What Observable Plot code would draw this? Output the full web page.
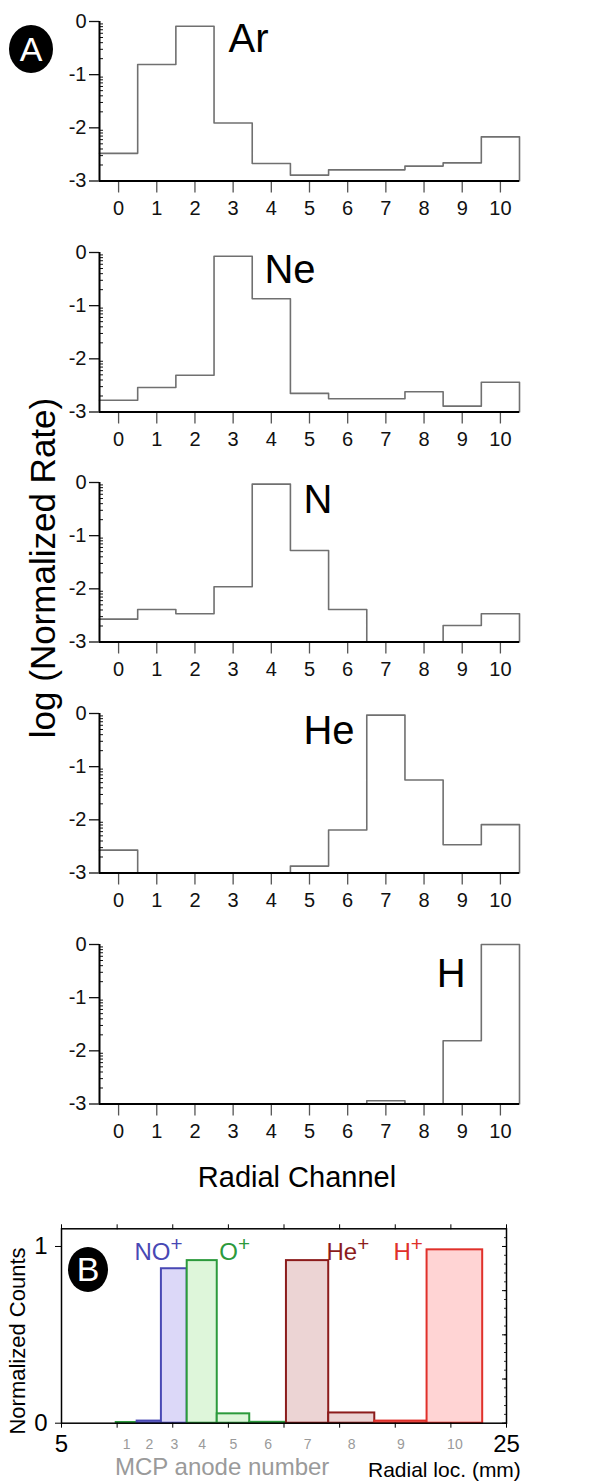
<!DOCTYPE html>
<html><head><meta charset="utf-8">
<script src="https://cdn.jsdelivr.net/npm/d3@7"></script>
<script src="https://cdn.jsdelivr.net/npm/@observablehq/plot@0.6"></script>
<style>
body{margin:0;background:#fff;font-family:"Liberation Sans",Arial,sans-serif;}
#wrap{position:relative;width:606px;height:1481px;overflow:hidden;background:#fff;}
.abs{position:absolute;white-space:nowrap;}
.badge{position:absolute;background:#000;color:#fff;border-radius:50%;text-align:center;font-family:"Liberation Sans",Arial,sans-serif;}
</style></head><body><div id="wrap"></div>
<script>
// ---------- Panel A data: log10(normalized rate) per radial channel ----------
const channels = [0,1,2,3,4,5,6,7,8,9,10];
const species = ["Ar","Ne","N","He","H"];
const arRate = [-2.48,-0.81,-0.09,-1.91,-2.67,-2.89,-2.79,-2.79,-2.72,-2.66,-2.17];
const neRate = [-2.78,-2.54,-2.31,-0.07,-0.87,-2.65,-2.75,-2.75,-2.62,-2.89,-2.44];
const nRate  = [-2.57,-2.39,-2.47,-1.96,-0.03,-1.28,-2.39,-3,-3,-2.69,-2.47];
const heRate = [-2.57,-3,-3,-3,-3,-2.87,-2.19,-0.03,-1.25,-2.47,-2.09];
const hRate  = [-3,-3,-3,-3,-3,-3,-3,-2.94,-3,-1.81,0];
const rateTicks = [0,-1,-2,-3];

// ---------- Panel B data: normalized counts per MCP anode ----------
const anodeNumbers = [1,2,3,4,5,6,7,8,9,10];
const anodeLeftMm  = [7.46,8.40,9.49,10.65,12.00,13.46,15.11,17.01,19.08,21.43];
const anodeRightMm = [8.40,9.49,10.65,12.00,13.46,15.11,17.01,19.08,21.43,23.93];
const anodeCounts  = [0.004,0.012,0.874,0.92,0.053,0.005,0.92,0.058,0.012,0.981];
const anodeIon     = ["O+","NO+","NO+","O+","O+","O+","He+","He+","H+","H+"];
const ionNames  = ["NO+","O+","He+","H+"];
const ionStroke = ["#4848b4","#2c9a3c","#8c1c1c","#e0302a"];
const ionFill   = ["#dcd8f8","#def6da","#ecd4d4","#ffd4d4"];
const radialTicksMm = [5,7.5,10,12.5,15,17.5,20,22.5,25];
const countTicks = [0,1];
const countMajorTicks = [0,0.25,0.5,0.75,1];

const FONT = "Liberation Sans, Arial, sans-serif";
const wrap = document.getElementById("wrap");

// ---------- Panel A ----------
const rates = [arRate, neRate, nRate, heRate, hRate];
const labelPos = [[2.88,-0.583],[3.82,-0.583],[4.84,-0.565],[4.84,-0.565],[8.33,-0.796]];
const panelTops = [0, 230.7, 461.4, 692.1, 922.8];
const minorLog = [];
for (let n = 1; n <= 3; n++) for (let k = 2; k <= 9; k++) minorLog.push(-n + Math.log10(k));

species.forEach((sp, i) => {
  const vals = rates[i];
  const pts = channels.map((c, j) => ({x: c - 0.5, y: vals[j]}));
  const last = channels[channels.length - 1];
  pts.push({x: last + 0.5, y: vals[vals.length - 1]});
  pts.push({x: last + 0.5, y: -3});
  const chart = Plot.plot({
    width: 606, height: 230,
    marginTop: 21, marginBottom: 49.5, marginLeft: 99, marginRight: 87,
    x: {domain: [-0.5, 10.5], label: null},
    y: {domain: [-3, 0], label: null},
    style: {fontFamily: FONT, background: "transparent", color: "#111", overflow: "visible"},
    marks: [
      Plot.line(pts, {x: "x", y: "y", curve: "step-after", stroke: "#707070", strokeWidth: 1.6}),
      Plot.axisY(minorLog, {tickSize: 4, dx: 4, tickFormat: () => "", label: null, strokeWidth: 1}),
      Plot.axisY(rateTicks, {tickSize: 10, tickPadding: 3, tickFormat: d => String(d), fontSize: 20, label: null, strokeWidth: 1.3}),
      Plot.axisX(channels, {tickSize: 12, tickPadding: 8, tickFormat: d => String(d), fontSize: 20, label: null, strokeWidth: 1.3, stroke: "#555"}),
      Plot.ruleX([-0.5], {stroke: "#000", strokeWidth: 2}),
      Plot.ruleY([-3], {stroke: "#000", strokeWidth: 2}),
      Plot.text([sp], {x: () => labelPos[i][0], y: () => labelPos[i][1], text: d => d,
        textAnchor: "start", lineAnchor: "bottom", fontSize: 40, fill: "#000"})
    ]
  });
  chart.style.position = "absolute";
  chart.style.left = "0px";
  chart.style.top = panelTops[i] + "px";
  wrap.appendChild(chart);
});

// ---------- Panel B ----------
const bars = anodeNumbers.map((a, j) => ({
  anode: a, x1: anodeLeftMm[j], x2: anodeRightMm[j], count: anodeCounts[j], ion: anodeIon[j]
}));
const strokeOf = ion => ionStroke[ionNames.indexOf(ion)];
const fillOf = ion => ionFill[ionNames.indexOf(ion)];
const ionLabelMm = [8.28, 12.09, 16.91, 19.92];
const ionLabels = ionNames.map((n, i) => ({name: n, x: ionLabelMm[i], color: ionStroke[i]}));
const minorCount = d3.range(0, 1.1, 0.05);

const chartB = Plot.plot({
  width: 606, height: 301,
  marginTop: 48.3, marginBottom: 58.3, marginLeft: 61, marginRight: 100,
  x: {domain: [5, 25], label: null},
  y: {domain: [0, 1.1], label: null},
  style: {fontFamily: FONT, background: "transparent", color: "#000", overflow: "visible"},
  marks: [
    Plot.rect(bars, {x1: "x1", x2: "x2", y1: 0, y2: "count",
      fill: d => fillOf(d.ion), stroke: d => strokeOf(d.ion), strokeWidth: 2}),
    Plot.frame({stroke: "#000", strokeWidth: 1.5}),
    Plot.axisX(radialTicksMm, {anchor: "bottom", tickSize: 5, tickPadding: 7,
      tickFormat: d => (d === 5 || d === 25) ? String(d) : "", fontSize: 24, label: null}),
    Plot.axisX(radialTicksMm, {anchor: "top", tickSize: 5, tickFormat: () => "", label: null}),
    Plot.axisY(countTicks, {anchor: "left", tickSize: 6, tickPadding: 8, tickFormat: d => String(d), fontSize: 24, label: null}),
    Plot.axisY(countMajorTicks, {anchor: "right", tickSize: 5, dx: -5, tickFormat: () => "", label: null}),
    Plot.axisY(minorCount, {anchor: "right", tickSize: 3, dx: -3, tickFormat: () => "", label: null, strokeWidth: 0.8}),
    Plot.text(bars, {x: d => (d.x1 + d.x2) / 2, y: 0, text: d => String(d.anode), dy: 25.3,
      lineAnchor: "bottom", fontSize: 14, fill: "#9a9a9a"}),
    Plot.text(ionLabels, {x: "x", y: () => 0.921, text: "name", fill: d => d.color,
      textAnchor: "start", lineAnchor: "bottom", fontSize: 24})
  ]
});
chartB.style.position = "absolute";
chartB.style.left = "0px";
chartB.style.top = "1180px";
wrap.appendChild(chartB);

// superscript the "+" of the ion labels
chartB.querySelectorAll("text").forEach(t => {
  const s = t.textContent;
  if (ionNames.includes(s)) {
    t.textContent = s.slice(0, -1);
    const ts = document.createElementNS("http://www.w3.org/2000/svg", "tspan");
    ts.setAttribute("font-size", "0.86em");
    ts.setAttribute("dy", "-0.45em");
    ts.textContent = "+";
    t.appendChild(ts);
  }
});

// ---------- free text and badges ----------
function addText(txt, css) {
  const d = document.createElement("div");
  d.className = "abs";
  d.textContent = txt;
  Object.assign(d.style, css);
  wrap.appendChild(d);
  return d;
}
addText("log (Normalized Rate)", {left: "-167px", top: "548px", width: "420px", height: "40px",
  lineHeight: "40px", fontSize: "35px", textAlign: "center", transform: "rotate(-90deg)", color: "#000"});
addText("Radial Channel", {left: "97px", top: "1162.5px", width: "400px", lineHeight: "29px",
  fontSize: "29px", textAlign: "center", color: "#000"});
addText("Normalized Counts", {left: "-111.8px", top: "1328px", width: "260px", height: "26px",
  lineHeight: "26px", fontSize: "22px", textAlign: "center", transform: "rotate(-90deg)", color: "#000"});
addText("MCP anode number", {left: "115px", top: "1454.7px", lineHeight: "24px", fontSize: "24px", color: "#9a9a9a"});
addText("Radial loc. (mm)", {left: "368px", top: "1458.5px", lineHeight: "21px", fontSize: "21px", color: "#000"});

function addBadge(letter, cx, cy, w, h, fs) {
  const b = document.createElement("div");
  b.className = "badge";
  b.textContent = letter;
  Object.assign(b.style, {left: (cx - w / 2) + "px", top: (cy - h / 2) + "px", width: w + "px",
    height: h + "px", lineHeight: h + "px", fontSize: fs + "px"});
  wrap.appendChild(b);
}
addBadge("A", 31, 49, 44, 48, 34);
addBadge("B", 88, 1269.5, 40, 45, 34);
</script>
</body></html>
